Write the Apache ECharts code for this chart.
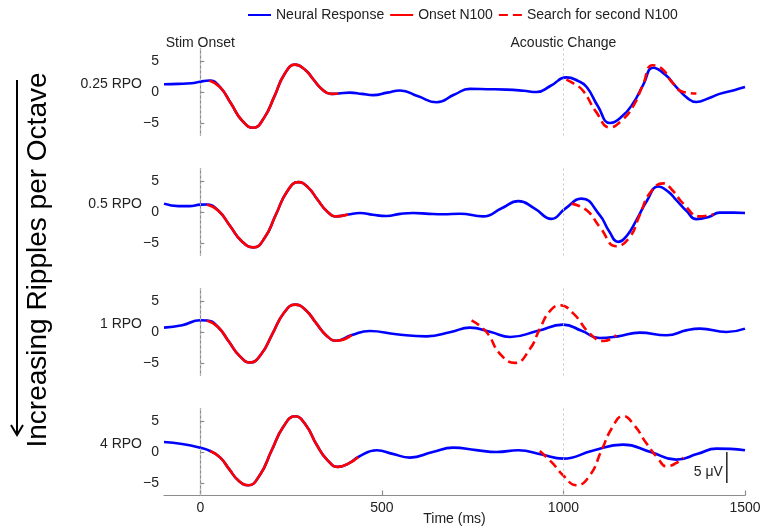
<!DOCTYPE html>
<html>
<head>
<meta charset="utf-8">
<script src="https://cdn.jsdelivr.net/npm/echarts@6/dist/echarts.min.js"></script>
<style>
  html, body { margin: 0; padding: 0; background: #fff; }
  #chart { width: 763px; height: 528px; }
</style>
</head>
<body>
<div id="chart"></div>
<script>
// Averaged evoked responses (µV) for each ripple density, time in ms.
const conditions = ['0.25 RPO', '0.5 RPO', '1 RPO', '4 RPO'];

const response025 = [[-100,1.25],[-60,1.3],[-25,1.4],[0,1.65],[25,1.85],[55,0.75],[85,-1.9],[115,-4.6],[146,-5.75],[175,-4.2],[204,-0.7],[232,2.9],[261,4.4],[290,3.5],[311,2.05],[335,0.45],[360,-0.3],[380,-0.25],[412,-0.1],[445,-0.3],[476,-0.5],[515,-0.1],[550,0.25],[600,-0.7],[651,-1.65],[700,-0.4],[742,0.5],[790,0.45],[843,0.38],[890,0.2],[926,0.0],[965,1.0],[1008,2.35],[1040,1.8],[1064,0.8],[1095,-2.3],[1128,-5.0],[1160,-4.0],[1191,-1.9],[1220,1.2],[1247,3.9],[1280,2.8],[1311,0.8],[1340,-0.9],[1366,-1.6],[1400,-1.0],[1430,-0.3],[1470,0.3],[1500,0.8]];
const response05 = [[-100,1.35],[-60,0.95],[-30,0.95],[0,1.18],[18,1.2],[50,0.2],[82,-2.25],[114,-4.7],[146,-5.7],[177,-4.2],[208,-0.45],[239,3.3],[270,4.8],[296,4.0],[322,2.05],[349,0.1],[375,-0.7],[407,-0.4],[440,-0.15],[475,-0.45],[513,-0.64],[550,-0.3],[586,-0.15],[630,-0.3],[669,-0.37],[715,-0.27],[779,-0.7],[830,0.6],[876,1.75],[920,0.6],[967,-1.1],[1004,0.5],[1050,2.15],[1100,-0.5],[1125,-3.0],[1151,-4.8],[1175,-3.8],[1201,-1.3],[1230,1.8],[1261,4.1],[1290,3.2],[1311,1.9],[1340,0.1],[1366,-1.15],[1400,-0.8],[1430,-0.1],[1470,-0.1],[1500,-0.15]];
const response1 = [[-100,0.7],[-50,1.1],[0,1.88],[18,1.85],[48,0.85],[78,-1.5],[108,-3.85],[137,-4.9],[168,-3.55],[199,-0.25],[230,3.05],[261,4.4],[290,3.55],[318,1.5],[347,-0.55],[375,-1.4],[417,-0.5],[467,0.16],[540,-0.37],[623,-0.7],[690,0.0],[742,0.7],[800,0.0],[853,-0.8],[930,0.2],[999,1.18],[1050,0.2],[1100,-0.96],[1150,-0.7],[1210,-0.1],[1284,-0.53],[1340,0.3],[1376,0.54],[1449,0.0],[1500,0.54]];
const response4 = [[-100,1.6],[-50,1.3],[0,0.7],[27,0.16],[55,-0.9],[80,-2.8],[105,-4.6],[132,-5.35],[164,-3.7],[196,0.2],[229,4.1],[261,5.75],[291,4.3],[320,1.2],[350,-1.3],[380,-2.4],[410,-1.8],[435,-0.8],[486,0.27],[530,-0.3],[577,-0.9],[640,0.0],[696,0.7],[760,0.3],[816,0.0],[876,0.27],[940,-0.4],[999,-1.07],[1080,0.2],[1164,1.18],[1240,0.0],[1311,-1.23],[1370,-0.3],[1421,0.54],[1460,0.5],[1500,0.27]];

// Onset N100 window (ms) per condition, taken from the response itself
const onsetWindows = [[25, 380], [18, 407], [18, 417], [27, 435]];

// Template search for a second N100 after the acoustic change
const search025 = [[1008,2.0],[1030,1.3],[1054,0.2],[1090,-3.2],[1128,-5.7],[1160,-4.6],[1191,-2.4],[1218,1.0],[1245,4.3],[1272,3.7],[1300,1.5],[1330,0.0],[1366,-0.25]];
const search05 = [[1022,1.35],[1064,0.27],[1100,-2.4],[1146,-5.5],[1183,-4.0],[1210,-0.5],[1240,3.2],[1275,4.6],[1300,3.5],[1330,1.35],[1376,-0.7],[1413,-0.37]];
const search1 = [[747,1.88],[788,0.0],[825,-3.5],[866,-4.97],[908,-2.7],[935,0.54],[962,3.3],[990,4.3],[1027,3.0],[1073,-0.27],[1110,-1.44],[1146,-0.53]];
const search4 = [[935,0.16],[970,-1.8],[999,-3.74],[1036,-5.35],[1073,-3.74],[1105,0.27],[1135,4.0],[1164,5.78],[1195,4.3],[1229,1.35],[1260,-1.0],[1284,-2.3],[1310,-1.8],[1330,-0.9]];

const markerTimes = [0, 1000];
const markerNames = ['Stim Onset', 'Acoustic Change'];
const timeTicks = [0, 500, 1000, 1500];
const voltTicks = [-5, 0, 5];
const timeRange = [-100, 1500];
const voltRange = [-7, 7];
const scaleBar = [[1450, 0], [1450, -5]];
const scaleBarText = '5 \u03bcV';
const seriesNames = ['Neural Response', 'Onset N100', 'Search for second N100'];

const responses = [response025, response05, response1, response4];
const searches = [search025, search05, search1, search4];

// ---- layout ----
const FONT = '"Liberation Sans", Arial, Helvetica, sans-serif';
const GRID_LEFT = 164, GRID_RIGHT = 18, GRID_H = 87;
const GRID_TOPS = [48.5, 168.5, 288.5, 408.5];
const AXIS_GRAY = '#8c8c8c';
const TEXT = '#222';
const BLUE = '#0000ff', RED = '#ff0000';

const chart = echarts.init(document.getElementById('chart'), null, { renderer: 'canvas' });

const grids = GRID_TOPS.map(t => ({
  left: GRID_LEFT, right: GRID_RIGHT, top: t, height: GRID_H,
  containLabel: false, outerBoundsMode: 'none'
}));

const xAxes = GRID_TOPS.map((t, i) => {
  const last = i === GRID_TOPS.length - 1;
  return {
    type: 'value', gridIndex: i, min: timeRange[0], max: timeRange[1],
    splitLine: { show: false },
    axisLine: { show: last, onZero: false, lineStyle: { color: AXIS_GRAY, width: 1.2 } },
    axisTick: { show: last, inside: true, length: 5, customValues: timeTicks, lineStyle: { color: AXIS_GRAY, width: 1.2 } },
    axisLabel: { show: last, customValues: timeTicks, color: TEXT, fontSize: 14, fontFamily: FONT, margin: 6, formatter: v => String(v) },
    name: last ? 'Time (ms)' : '', nameLocation: 'middle', nameGap: 17, nameMoveOverlap: false,
    nameTextStyle: { color: TEXT, fontSize: 14, fontFamily: FONT }
  };
});

const yAxes = GRID_TOPS.map((t, i) => ({
  type: 'value', gridIndex: i, min: voltRange[0], max: voltRange[1],
  splitLine: { show: false },
  axisLine: { show: true, lineStyle: { color: AXIS_GRAY, width: 1.2 } },
  axisTick: { show: true, inside: true, length: 4, customValues: voltTicks, lineStyle: { color: AXIS_GRAY, width: 1.2 } },
  axisLabel: {
    customValues: voltTicks, color: TEXT, fontSize: 14, fontFamily: FONT, margin: 5,
    formatter: v => (v < 0 ? '\u2212' + Math.abs(v) : String(v))
  }
}));

const series = [];
responses.forEach((resp, i) => {
  const [t0, t1] = onsetWindows[i];
  // dotted guides at stimulus onset and acoustic change
  series.push({
    type: 'line', xAxisIndex: i, yAxisIndex: i, data: [], z: 1, silent: true,
    markLine: {
      silent: true, symbol: ['none', 'none'], label: { show: false },
      lineStyle: { color: '#c4c4c4', type: [2, 3], width: 1 },
      emphasis: { disabled: true },
      data: markerTimes.map(t => ({ xAxis: t }))
    }
  });
  series.push({
    name: seriesNames[0], type: 'line', xAxisIndex: i, yAxisIndex: i, z: 2,
    data: resp, smooth: 0.5, symbol: 'none',
    lineStyle: { color: BLUE, width: 2.6 }, itemStyle: { color: BLUE }
  });
  series.push({
    name: seriesNames[1], type: 'line', xAxisIndex: i, yAxisIndex: i, z: 3,
    data: resp.filter(p => p[0] >= t0 && p[0] <= t1), smooth: 0.5, symbol: 'none',
    lineStyle: { color: RED, width: 2.6 }, itemStyle: { color: RED }
  });
  series.push({
    name: seriesNames[2], type: 'line', xAxisIndex: i, yAxisIndex: i, z: 4,
    data: searches[i], smooth: 0.5, symbol: 'none',
    lineStyle: { color: RED, width: 2.6, type: [9, 5] }, itemStyle: { color: RED }
  });
});

// 5 µV scale bar in the bottom panel
series.push({
  type: 'line', xAxisIndex: 3, yAxisIndex: 3, z: 5, silent: true,
  data: scaleBar, symbol: 'none',
  lineStyle: { color: '#000', width: 1.3 }
});

chart.setOption({
  animation: false,
  backgroundColor: '#fff',
  textStyle: { fontFamily: FONT },
  legend: {
    data: seriesNames, left: 247, top: 8, padding: 0,
    itemWidth: 23, itemHeight: 14, itemGap: 5,
    itemStyle: { opacity: 0, borderWidth: 0 },
    textStyle: { color: TEXT, fontSize: 14, fontFamily: FONT }
  },
  grid: grids, xAxis: xAxes, yAxis: yAxes, series: series
});

// Text placed from the axes' own scales
const graphics = [];
markerTimes.forEach((t, k) => {
  const px = chart.convertToPixel({ xAxisIndex: 0 }, t);
  graphics.push({
    type: 'text', x: px, y: 43,
    style: { text: markerNames[k], fill: TEXT, font: '14px ' + FONT, textAlign: 'center', textVerticalAlign: 'middle' }
  });
});
conditions.forEach((c, i) => {
  const py = chart.convertToPixel({ yAxisIndex: i }, 1.2);
  graphics.push({
    type: 'text', x: 142, y: py,
    style: { text: c, fill: TEXT, font: '14px ' + FONT, textAlign: 'right', textVerticalAlign: 'middle' }
  });
});
const barLabel = chart.convertToPixel({ gridIndex: 3 }, [scaleBar[0][0], -3.2]);
graphics.push({
  type: 'text', x: barLabel[0] - 4, y: barLabel[1],
  style: { text: scaleBarText, fill: TEXT, font: '14px ' + FONT, textAlign: 'right', textVerticalAlign: 'middle' }
});
// Direction of increasing ripple density
graphics.push({
  type: 'text', x: 38, y: 260, rotation: Math.PI / 2,
  style: { text: 'Increasing Ripples per Octave', fill: '#000', font: '28px ' + FONT, textAlign: 'center', textVerticalAlign: 'middle' }
});
graphics.push({ type: 'line', shape: { x1: 17, y1: 80, x2: 17, y2: 434 }, style: { stroke: '#000', lineWidth: 2 } });
graphics.push({ type: 'polyline', shape: { points: [[11, 425], [17, 435], [23, 425]] }, style: { stroke: '#000', lineWidth: 2, fill: null } });

chart.setOption({ graphic: graphics });
</script>
</body>
</html>
